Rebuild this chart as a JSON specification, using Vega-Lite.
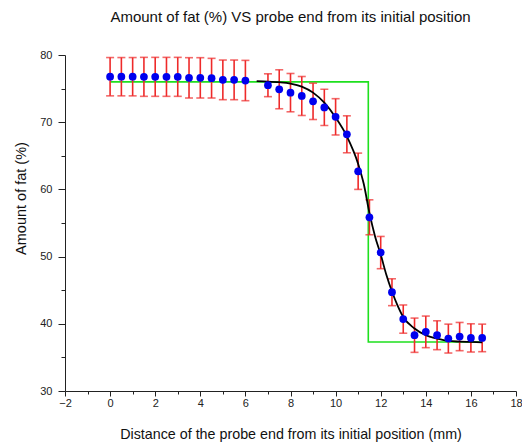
{
  "$schema": "https://vega.github.io/schema/vega-lite/v6.json",
  "width": 451,
  "height": 336,
  "autosize": "none",
  "padding": {"left": 65, "top": 55, "right": 6, "bottom": 54},
  "background": "white",
  "title": {
    "text": "Amount of fat (%) VS probe end from its initial position",
    "font": "Liberation Sans",
    "fontSize": 15,
    "fontWeight": "normal",
    "color": "#111",
    "anchor": "middle",
    "frame": "group",
    "offset": 24
  },
  "config": {
    "view": {"stroke": null},
    "axis": {
      "grid": false,
      "domainColor": "#222",
      "tickColor": "#222",
      "labelColor": "#222",
      "titleColor": "#111",
      "labelFont": "Liberation Sans",
      "titleFont": "Liberation Sans",
      "labelFontSize": 11,
      "titleFontSize": 14.3,
      "titleFontWeight": "normal"
    }
  },
  "datasets": {
    "obs": [
      {"x": 0, "y": 76.77, "err": 2.85},
      {"x": 0.5, "y": 76.77, "err": 2.85},
      {"x": 1, "y": 76.77, "err": 2.85},
      {"x": 1.5, "y": 76.75, "err": 2.9},
      {"x": 2, "y": 76.75, "err": 2.9},
      {"x": 2.5, "y": 76.75, "err": 2.9},
      {"x": 3, "y": 76.75, "err": 2.9},
      {"x": 3.5, "y": 76.6, "err": 3.0},
      {"x": 4, "y": 76.6, "err": 3.0},
      {"x": 4.5, "y": 76.55, "err": 2.95},
      {"x": 5, "y": 76.3, "err": 2.95},
      {"x": 5.5, "y": 76.3, "err": 2.95},
      {"x": 6, "y": 76.2, "err": 3.0},
      {"x": 7, "y": 75.5, "err": 1.7},
      {"x": 7.5, "y": 74.9, "err": 2.9},
      {"x": 8, "y": 74.4, "err": 2.85},
      {"x": 8.5, "y": 73.9, "err": 2.9},
      {"x": 9, "y": 73.1, "err": 2.7},
      {"x": 9.5, "y": 72.2, "err": 2.7},
      {"x": 10, "y": 70.8, "err": 2.7},
      {"x": 10.5, "y": 68.2, "err": 2.75},
      {"x": 11, "y": 62.7, "err": 2.7},
      {"x": 11.5, "y": 55.85, "err": 2.6},
      {"x": 12, "y": 50.6, "err": 2.4},
      {"x": 12.5, "y": 44.7, "err": 2.0},
      {"x": 13, "y": 40.7, "err": 2.1},
      {"x": 13.5, "y": 38.3, "err": 2.55},
      {"x": 14, "y": 38.8, "err": 2.35},
      {"x": 14.5, "y": 38.3, "err": 2.15},
      {"x": 15, "y": 37.8, "err": 2.15},
      {"x": 15.5, "y": 38.1, "err": 2.1},
      {"x": 16, "y": 37.9, "err": 2.1},
      {"x": 16.5, "y": 37.9, "err": 2.05}
    ],
    "fit": [
      {"x": 6.5, "y": 76.1},
      {"x": 7.0, "y": 76.05},
      {"x": 7.5, "y": 75.95},
      {"x": 8.0, "y": 75.75},
      {"x": 8.5, "y": 75.3},
      {"x": 9.0, "y": 74.4},
      {"x": 9.5, "y": 72.9},
      {"x": 10.0, "y": 70.7},
      {"x": 10.5, "y": 67.9},
      {"x": 11.0, "y": 63.8},
      {"x": 11.25, "y": 60.8},
      {"x": 11.5, "y": 56.5},
      {"x": 11.75, "y": 53.0},
      {"x": 12.0, "y": 50.3},
      {"x": 12.25, "y": 47.3},
      {"x": 12.5, "y": 44.8},
      {"x": 12.75, "y": 42.7},
      {"x": 13.0, "y": 41.0},
      {"x": 13.5, "y": 39.3},
      {"x": 14.0, "y": 38.3},
      {"x": 14.5, "y": 37.8},
      {"x": 15.0, "y": 37.45},
      {"x": 15.5, "y": 37.35},
      {"x": 16.0, "y": 37.3},
      {"x": 16.5, "y": 37.25}
    ],
    "step": [
      {"x": 0, "y": 76.0, "o": 1},
      {"x": 11.45, "y": 76.0, "o": 2},
      {"x": 11.45, "y": 37.3, "o": 3},
      {"x": 16.5, "y": 37.3, "o": 4}
    ]
  },
  "resolve": {"axis": {"x": "independent", "y": "independent"}},
  "layer": [
    {
      "data": {"name": "step"},
      "mark": {"type": "line", "color": "#1ee01e", "strokeWidth": 1.6},
      "encoding": {
        "x": {
          "field": "x", "type": "quantitative",
          "scale": {"domain": [-2, 18], "nice": false, "zero": false},
          "axis": {
            "orient": "bottom",
            "values": [-2, 0, 2, 4, 6, 8, 10, 12, 14, 16, 18],
            "tickSize": 5,
            "labelPadding": 1,
            "title": "Distance of the probe end from its initial position (mm)",
            "titlePadding": 19,
            "labelFlush": false
          }
        },
        "y": {
          "field": "y", "type": "quantitative",
          "scale": {"domain": [30, 80], "nice": false, "zero": false},
          "axis": {
            "orient": "left",
            "values": [30, 40, 50, 60, 70, 80],
            "tickSize": 7,
            "labelPadding": 6,
            "title": "Amount of fat (%)",
            "titleFontSize": 14.5,
            "titlePadding": 11,
            "titleY": 143,
            "labelFlush": false
          }
        },
        "order": {"field": "o", "type": "quantitative"}
      }
    },
    {
      "data": {"name": "obs"},
      "mark": {
        "type": "errorbar",
        "color": "#ee2a2a",
        "thickness": 1.6,
        "ticks": {"size": 8, "thickness": 1.6, "color": "#ee2a2a"}
      },
      "encoding": {
        "x": {"field": "x", "type": "quantitative", "scale": {"domain": [-2, 18], "nice": false, "zero": false}, "axis": null},
        "y": {"field": "y", "type": "quantitative", "scale": {"domain": [30, 80], "nice": false, "zero": false}, "axis": null},
        "yError": {"field": "err"}
      }
    },
    {
      "data": {"name": "fit"},
      "mark": {"type": "line", "color": "#000000", "strokeWidth": 1.8, "interpolate": "monotone"},
      "encoding": {
        "x": {
          "field": "x", "type": "quantitative",
          "scale": {"domain": [-2, 18], "nice": false, "zero": false},
          "axis": {"orient": "bottom", "values": [-1, 1, 3, 5, 7, 9, 11, 13, 15, 17], "tickSize": 3, "labels": false, "domain": false, "title": null}
        },
        "y": {
          "field": "y", "type": "quantitative",
          "scale": {"domain": [30, 80], "nice": false, "zero": false},
          "axis": {"orient": "left", "values": [35, 45, 55, 65, 75], "tickSize": 4, "labels": false, "domain": false, "title": null}
        }
      }
    },
    {
      "data": {"name": "obs"},
      "mark": {"type": "circle", "color": "#0000ee", "size": 60, "opacity": 1},
      "encoding": {
        "x": {"field": "x", "type": "quantitative", "scale": {"domain": [-2, 18], "nice": false, "zero": false}, "axis": null},
        "y": {"field": "y", "type": "quantitative", "scale": {"domain": [30, 80], "nice": false, "zero": false}, "axis": null}
      }
    }
  ]
}
